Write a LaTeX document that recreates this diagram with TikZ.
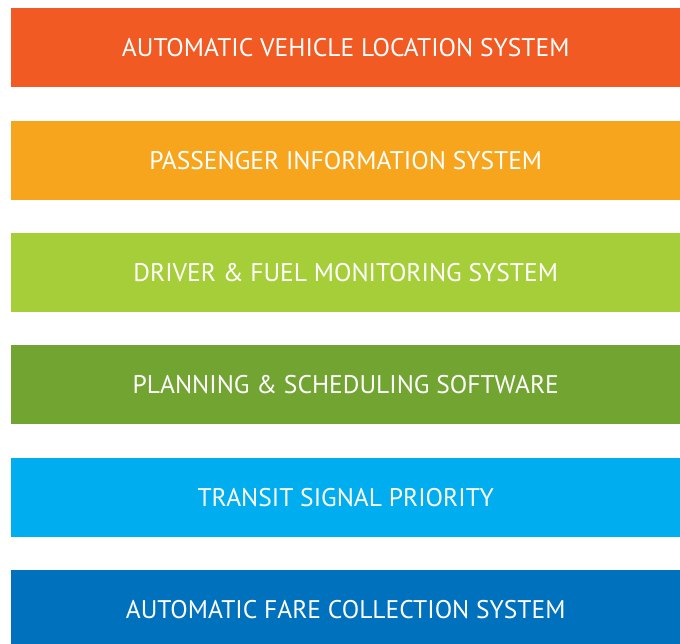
\documentclass[tikz,border=0pt]{standalone}
\usepackage{fontspec}
\setmainfont{PT Sans}
\definecolor{c1}{HTML}{F15A22}
\definecolor{c2}{HTML}{F7A51D}
\definecolor{c3}{HTML}{A6CE39}
\definecolor{c4}{HTML}{72A432}
\definecolor{c5}{HTML}{00AEEF}
\definecolor{c6}{HTML}{0071BC}
\begin{document}
\begin{tikzpicture}[x=1pt,y=-1pt,
  bar/.style={minimum width=669pt,minimum height=79pt,inner sep=0pt,text=white,font=\fontsize{25.5}{28}\selectfont,anchor=north west,text depth=-3pt}]
\useasboundingbox (0,0) rectangle (680,644);
\begin{scope}
\clip (0,0) rectangle (680,644);
\node[bar,fill=c1] (a) at (11,8) {AUTOMATIC VEHICLE LOCATION SYSTEM};
\node[bar,fill=c2] (b) at (11,120.5) {PASSENGER INFORMATION SYSTEM};
\node[bar,fill=c3] (c) at (11,233) {DRIVER \& FUEL MONITORING SYSTEM};
\node[bar,fill=c4] (d) at (11,345) {PLANNING \& SCHEDULING SOFTWARE};
\node[bar,fill=c5] (e) at (11,457.5) {TRANSIT SIGNAL PRIORITY};
\node[bar,fill=c6] (f) at (11,570) {AUTOMATIC FARE COLLECTION SYSTEM};
\end{scope}
\end{tikzpicture}
\end{document}
